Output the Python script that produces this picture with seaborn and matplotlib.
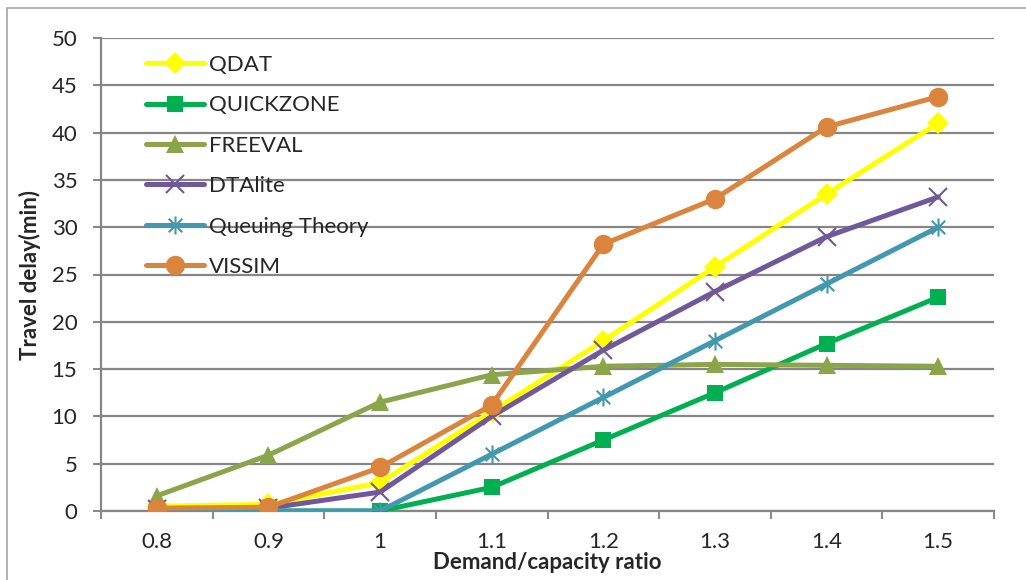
import matplotlib
matplotlib.use("Agg")
import matplotlib.pyplot as plt
from matplotlib.path import Path
from matplotlib.patches import Rectangle
from matplotlib.ticker import FixedLocator, MultipleLocator
import seaborn as sns
import pandas as pd

ratios = [0.8, 0.9, 1.0, 1.1, 1.2, 1.3, 1.4, 1.5]
x_tick_labels = ["0.8", "0.9", "1", "1.1", "1.2", "1.3", "1.4", "1.5"]
series_names = ["QDAT", "QUICKZONE", "FREEVAL", "DTAlite", "Queuing Theory", "VISSIM"]
qdat = [0.5, 0.7, 3.0, 10.5, 18.0, 25.8, 33.5, 41.0]
quickzone = [0.0, 0.0, 0.0, 2.5, 7.5, 12.5, 17.7, 22.6]
freeval = [1.6, 5.9, 11.5, 14.4, 15.3, 15.5, 15.4, 15.3]
dtalite = [0.2, 0.3, 2.0, 10.0, 17.0, 23.2, 29.0, 33.2]
queuing = [0.0, 0.0, 0.0, 6.0, 12.0, 18.0, 24.0, 30.0]
vissim = [0.3, 0.4, 4.6, 11.2, 28.2, 33.0, 40.6, 43.8]
values = [qdat, quickzone, freeval, dtalite, queuing, vissim]

colors = ["#FFFF00", "#00B050", "#8BA54A", "#71589A", "#4198AF", "#DB843D"]

star = Path([(0, -1), (0, 1), (-0.75, -0.75), (0.75, 0.75), (-0.75, 0.75), (0.75, -0.75)],
            [Path.MOVETO, Path.LINETO, Path.MOVETO, Path.LINETO, Path.MOVETO, Path.LINETO])
markers = ["D", "s", "^", "x", star, "o"]
msizes = [11, 12, 13, 13, 13, 14]
mews = [0, 0, 0, 1.5, 1.5, 0]

df = pd.DataFrame({
    "ratio": ratios * len(series_names),
    "delay": [v for vals in values for v in vals],
    "series": [n for n in series_names for _ in ratios],
})

sns.set_style("white")
plt.rcParams["font.family"] = ["Lato", "DejaVu Sans"]

fig = plt.figure(figsize=(10.26, 5.8), dpi=100)
ax = fig.add_axes([101 / 1026, 1 - 511 / 580, (994 - 101) / 1026, (511 - 38) / 580])

grid_c = "#868686"
for name, col, mk, ms, mew in zip(series_names, colors, markers, msizes, mews):
    sub = df[df["series"] == name]
    sns.lineplot(data=sub, x="ratio", y="delay", ax=ax, color=col, marker=mk,
                 markersize=ms, markeredgewidth=mew, markeredgecolor=col,
                 linewidth=3.6, label=name, zorder=3)

ax.set_xlim(0.75, 1.55)
ax.set_ylim(0, 50)
ax.yaxis.set_major_locator(MultipleLocator(5))
ax.xaxis.set_major_locator(FixedLocator(ratios))
ax.set_xticklabels(x_tick_labels)
ax.xaxis.set_minor_locator(FixedLocator([0.75 + 0.1 * i for i in range(9)]))
ax.grid(axis="y", color=grid_c, linewidth=1.6, zorder=0)
ax.set_axisbelow(True)
for s in ["top", "right"]:
    ax.spines[s].set_visible(False)
for s in ["left", "bottom"]:
    ax.spines[s].set_color(grid_c)
    ax.spines[s].set_linewidth(1.6)
ax.tick_params(axis="y", which="major", direction="out", length=6, width=1.4,
               color=grid_c, labelsize=16, pad=11, left=True)
ax.tick_params(axis="x", which="major", length=0, labelsize=16, pad=15)
ax.tick_params(axis="x", which="minor", direction="out", length=6, width=1.4,
               color=grid_c, bottom=True)

ax.set_xlabel("Demand/capacity ratio", fontsize=16, fontweight="bold", labelpad=0)
ax.set_ylabel("Travel delay(min)", fontsize=16, fontweight="bold", labelpad=8)

leg = ax.legend(loc="upper left", bbox_to_anchor=(137 / 1026, 1 - 46 / 580),
                bbox_transform=fig.transFigure, frameon=False, fontsize=16,
                handlelength=2.6, handletextpad=0.25, labelspacing=0.92,
                borderaxespad=0)

fig.patches.append(Rectangle((7 / 1026, -0.1), 1.2, 1 - 8 / 580 + 0.1,
                             transform=fig.transFigure, fill=False,
                             edgecolor="#A6A6A6", linewidth=1.2))

fig.savefig("out.png", dpi=100)
